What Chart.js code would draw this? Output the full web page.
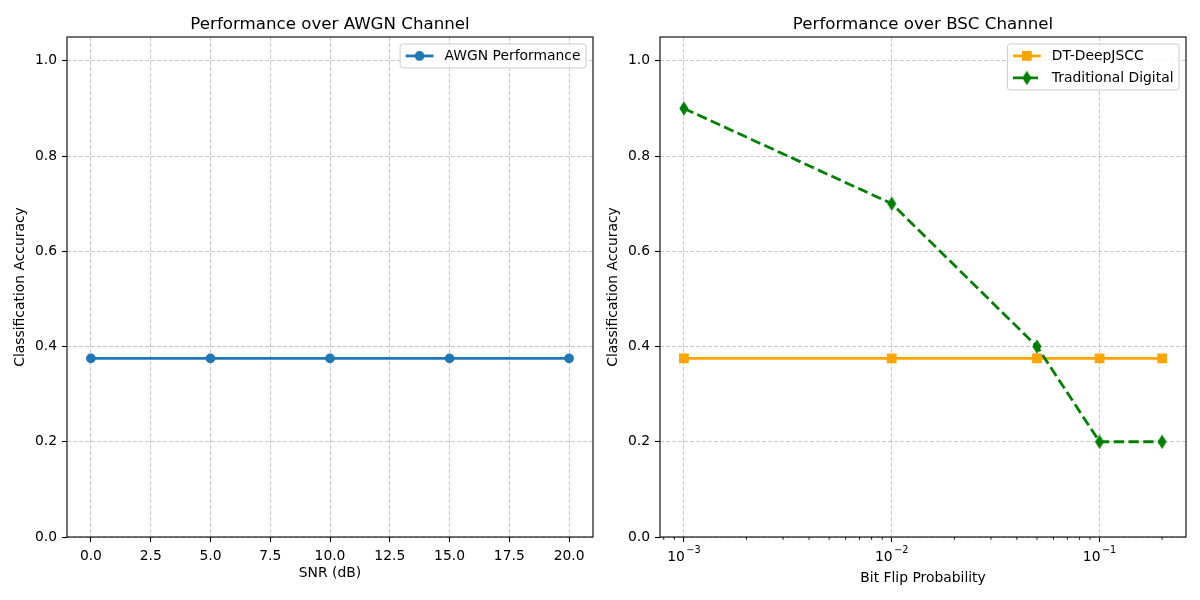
<!DOCTYPE html>
<html><head><meta charset="utf-8">
<script src="https://cdn.jsdelivr.net/npm/chart.js@4/dist/chart.umd.min.js"></script>
<style>
html,body{margin:0;padding:0;background:#fff;}
#wrap{position:relative;width:1200px;height:600px;overflow:hidden;}
.cv{position:absolute;top:0;width:600px;height:600px;}
</style></head><body>
<div id="wrap">
<div class="cv" style="left:0"><canvas id="c1" width="600" height="600"></canvas></div>
<div class="cv" style="left:600px"><canvas id="c2" width="600" height="600"></canvas></div>
</div>
<script>
// ---- data ----
const snrValues = [0, 5, 10, 15, 20];
const awgnAccuracy = [0.375, 0.375, 0.375, 0.375, 0.375];
const bitFlipProbs = [0.001, 0.01, 0.05, 0.1, 0.2];
const deepjsccAccuracy = [0.375, 0.375, 0.375, 0.375, 0.375];
const traditionalAccuracy = [0.9, 0.7, 0.4, 0.2, 0.2];
// ---- tick labels ----
const snrTicks = [0, 2.5, 5, 7.5, 10, 12.5, 15, 17.5, 20];
const accuracyTicks = [0, 0.2, 0.4, 0.6, 0.8, 1.0];
const bitFlipMajorTicks = [0.001, 0.01, 0.1];
const bitFlipMinorTicks = [0.0008, 0.0009, 0.002, 0.003, 0.004, 0.005, 0.006, 0.007, 0.008, 0.009,
  0.02, 0.03, 0.04, 0.05, 0.06, 0.07, 0.08, 0.09, 0.2];
const titles = ['Performance over AWGN Channel', 'Performance over BSC Channel'];

const FONT = '"DejaVu Sans", "Liberation Sans", sans-serif';
const FS = 13.89;
Chart.defaults.font.family = FONT;
Chart.defaults.color = '#000';

// thin diamond marker image
function thinDiamond(color) {
  const c = document.createElement('canvas');
  c.width = 12; c.height = 15;
  const g = c.getContext('2d');
  g.fillStyle = color; g.strokeStyle = color; g.lineWidth = 1.3;
  g.beginPath();
  g.moveTo(6, 1.5); g.lineTo(9.8, 7.5); g.lineTo(6, 13.5); g.lineTo(2.2, 7.5); g.closePath();
  g.fill(); g.stroke();
  return c;
}
const diamondImg = thinDiamond('#008000');

function setTicks(values) {
  return function (scale) { scale.ticks = values.map(v => ({ value: v })); };
}
function fixSize(size) {
  return function (scale) {
    if (scale.isHorizontal()) scale.height = size; else scale.width = size;
    scale.paddingLeft = 0; scale.paddingRight = 0; scale.paddingTop = 0; scale.paddingBottom = 0;
  };
}
const gridOpts = { color: 'rgba(176,176,176,0.7)', lineWidth: 1, tickColor: '#000', tickLength: 5, tickWidth: 1.1, drawTicks: true };
const borderOpts = { display: false, dash: [4, 2] };

const framePlugin = {
  id: 'frame',
  afterDraw(chart) {
    const { ctx, chartArea: a } = chart;
    ctx.save();
    ctx.strokeStyle = '#000'; ctx.lineWidth = 1.1; ctx.setLineDash([]);
    ctx.strokeRect(a.left, a.top, a.right - a.left, a.bottom - a.top);
    ctx.restore();
  }
};
const titlePlugin = {
  id: 'mplTitle',
  afterDraw(chart, args, opts) {
    const { ctx, chartArea: a } = chart;
    ctx.save();
    ctx.font = '16.67px ' + FONT; ctx.fillStyle = '#000';
    ctx.textAlign = 'center'; ctx.textBaseline = 'alphabetic';
    ctx.fillText(opts.text, (a.left + a.right) / 2, 28.5);
    ctx.restore();
  }
};
function drawMarker(ctx, ds, x, y) {
  const st = ds.pointStyle;
  ctx.save();
  ctx.setLineDash([]);
  if (st instanceof HTMLCanvasElement) {
    ctx.drawImage(st, x - st.width / 2, y - st.height / 2);
  } else {
    ctx.fillStyle = ds.pointBackgroundColor; ctx.strokeStyle = ds.pointBorderColor; ctx.lineWidth = ds.pointBorderWidth;
    ctx.beginPath();
    if (st === 'rect') { const s = Math.SQRT1_2 * ds.pointRadius; ctx.rect(x - s, y - s, 2 * s, 2 * s); }
    else ctx.arc(x, y, ds.pointRadius, 0, Math.PI * 2);
    ctx.fill(); ctx.stroke();
  }
  ctx.restore();
}
const legendPlugin = {
  id: 'mplLegend',
  afterDraw(chart) {
    const { ctx, chartArea: a } = chart;
    const items = chart.data.datasets;
    ctx.save();
    ctx.font = FS + 'px ' + FONT;
    const tw = Math.max(...items.map(d => ctx.measureText(d.label).width));
    const pad = 5.56, hl = 27.8, htp = 11.1, rowH = 22;
    const w = pad + hl + htp + tw + pad;
    const h = 2 + rowH * items.length;
    const right = a.right - 6.94, top = a.top + 6.94, left = right - w;
    ctx.beginPath();
    ctx.roundRect(left, top, w, h, 2.8);
    ctx.fillStyle = 'rgba(255,255,255,0.8)'; ctx.fill();
    ctx.strokeStyle = '#cccccc'; ctx.lineWidth = 1; ctx.stroke();
    items.forEach((d, i) => {
      const y = top + 12 + rowH * i;
      ctx.save();
      ctx.strokeStyle = d.borderColor; ctx.lineWidth = d.borderWidth;
      ctx.setLineDash(d.borderDash || []);
      ctx.beginPath(); ctx.moveTo(left + pad, y); ctx.lineTo(left + pad + hl, y); ctx.stroke();
      ctx.restore();
      drawMarker(ctx, d, left + pad + hl / 2, y);
      ctx.fillStyle = '#000'; ctx.textAlign = 'left'; ctx.textBaseline = 'middle';
      ctx.fillText(d.label, left + pad + hl + htp, y);
    });
    ctx.restore();
  }
};
const logLabelPlugin = {
  id: 'logLabels',
  afterDraw(chart) {
    const sc = chart.scales.x; const ctx = chart.ctx; const base = chart.chartArea.bottom;
    ctx.save();
    ctx.strokeStyle = '#000'; ctx.lineWidth = 0.9; ctx.setLineDash([]);
    bitFlipMinorTicks.forEach(v => {
      const x = sc.getPixelForValue(v);
      if (x < sc.left - 0.5 || x > sc.right + 0.5) return;
      ctx.beginPath(); ctx.moveTo(x, base); ctx.lineTo(x, base + 2.8); ctx.stroke();
    });
    ctx.fillStyle = '#000'; ctx.textBaseline = 'alphabetic'; ctx.textAlign = 'left';
    bitFlipMajorTicks.forEach(v => {
      const x = sc.getPixelForValue(v);
      const exp = Math.round(Math.log10(v));
      const main = '10', sup = '\u2212' + Math.abs(exp);
      ctx.font = FS + 'px ' + FONT; const wm = ctx.measureText(main).width;
      ctx.font = '9.7px ' + FONT; const ws = ctx.measureText(sup).width + 1.5;
      const x0 = x - (wm + ws) / 2;
      ctx.font = FS + 'px ' + FONT; ctx.fillText(main, x0, 561);
      ctx.font = '9.7px ' + FONT; ctx.fillText(sup, x0 + wm + 1.5, 553);
    });
    ctx.restore();
  }
};

const lineCommon = { borderWidth: 2.78, pointBorderWidth: 1.39, tension: 0, fill: false };

function yAxis(width, titlePad) {
  return {
    type: 'linear', min: 0, max: 1.05,
    afterBuildTicks: setTicks(accuracyTicks), afterFit: fixSize(width),
    ticks: { callback: v => v.toFixed(1), font: { size: FS }, color: '#000', padding: 5 },
    grid: gridOpts, border: borderOpts,
    title: { display: true, text: 'Classification Accuracy', color: '#000', font: { size: FS }, padding: { top: titlePad, bottom: 0 } }
  };
}

new Chart(document.getElementById('c1'), {
  type: 'line',
  data: {
    datasets: [Object.assign({
      label: 'AWGN Performance',
      data: snrValues.map((x, i) => ({ x: x, y: awgnAccuracy[i] })),
      borderColor: '#1f77b4', backgroundColor: '#1f77b4',
      pointStyle: 'circle', pointRadius: 4.17,
      pointBackgroundColor: '#1f77b4', pointBorderColor: '#1f77b4'
    }, lineCommon)]
  },
  options: {
    responsive: false, animation: false, events: [],
    layout: { padding: { top: 37, right: 7, left: 0, bottom: 0 } },
    plugins: { legend: { display: false }, tooltip: { enabled: false }, mplTitle: { text: titles[0] } },
    scales: {
      x: {
        type: 'linear', min: -1, max: 21,
        afterBuildTicks: setTicks(snrTicks), afterFit: fixSize(63),
        ticks: { callback: v => v.toFixed(1), font: { size: FS }, color: '#000', padding: 6, maxRotation: 0, autoSkip: false },
        grid: gridOpts, border: borderOpts,
        title: { display: true, text: 'SNR (dB)', color: '#000', font: { size: FS }, padding: { top: 0, bottom: 18 } }
      },
      y: yAxis(67, 11.8)
    }
  },
  plugins: [framePlugin, titlePlugin, legendPlugin]
});

new Chart(document.getElementById('c2'), {
  type: 'line',
  data: {
    datasets: [
      Object.assign({
        label: 'DT-DeepJSCC',
        data: bitFlipProbs.map((x, i) => ({ x: x, y: deepjsccAccuracy[i] })),
        borderColor: '#ffa500', backgroundColor: '#ffa500',
        pointStyle: 'rect', pointRadius: 5.9,
        pointBackgroundColor: '#ffa500', pointBorderColor: '#ffa500', order: 2
      }, lineCommon),
      Object.assign({
        label: 'Traditional Digital',
        data: bitFlipProbs.map((x, i) => ({ x: x, y: traditionalAccuracy[i] })),
        borderColor: '#008000', backgroundColor: '#008000', borderDash: [10.3, 4.45],
        pointStyle: diamondImg, pointRadius: 6,
        pointBackgroundColor: '#008000', pointBorderColor: '#008000', order: 1
      }, lineCommon)
    ]
  },
  options: {
    responsive: false, animation: false, events: [],
    layout: { padding: { top: 37, right: 14, left: 0, bottom: 0 } },
    plugins: { legend: { display: false }, tooltip: { enabled: false }, mplTitle: { text: titles[1] } },
    scales: {
      x: {
        type: 'logarithmic', min: Math.pow(10, -3.115), max: Math.pow(10, -0.584),
        afterBuildTicks: setTicks(bitFlipMajorTicks), afterFit: fixSize(63),
        ticks: { display: false, autoSkip: false },
        grid: gridOpts, border: borderOpts,
        title: { display: true, text: 'Bit Flip Probability', color: '#000', font: { size: FS }, padding: { top: 0, bottom: 13.7 } }
      },
      y: yAxis(60, 4.8)
    }
  },
  plugins: [framePlugin, titlePlugin, legendPlugin, logLabelPlugin]
});
</script>
</body></html>
